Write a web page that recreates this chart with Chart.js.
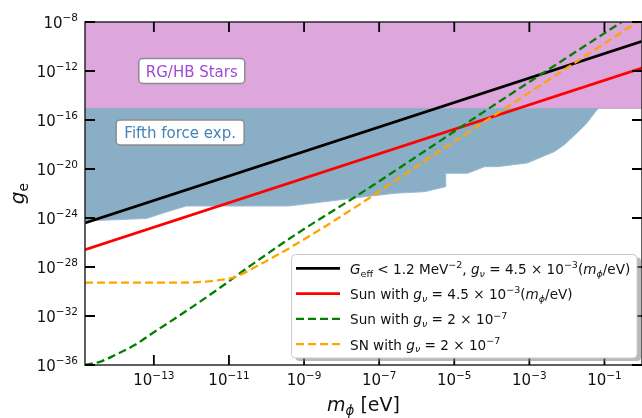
<!DOCTYPE html>
<html>
<head>
<meta charset="utf-8">
<script src="https://cdn.jsdelivr.net/npm/chart.js@4.4.0/dist/chart.umd.min.js"></script>
<style>
  html, body { margin: 0; padding: 0; background: #fff; }
</style>
</head>
<body>
<canvas id="c" width="642" height="418"></canvas>
<script>
// all values below are log10 of the quantity (m_phi in eV, g_e dimensionless)

// axis ranges and ticks
const X_MIN_EXP = -14.834, X_MAX_EXP = 0;
const Y_MIN_EXP = -36, Y_MAX_EXP = -8;
const xTickExps = [-13, -11, -9, -7, -5, -3, -1];
const yTickExps = [-36, -32, -28, -24, -20, -16, -12, -8];

// RG/HB stars excluded above this coupling
const rgBoundExp = -15.05;

// fifth force exclusion, lower edge
const fifthMass = [-14.834, -13.193, -12.664, -12.134, -9.408, -8.799, -7.370, -6.576, -5.782, -5.226, -5.226, -4.644, -4.193, -3.850, -3.056, -2.341, -2.076, -1.732, -1.467, -1.203, -1.150];
const fifthG    = [-24.24, -24.04, -23.51, -23.02, -23.02, -22.80, -22.26, -21.98, -21.85, -21.44, -20.35, -20.35, -19.81, -19.81, -19.51, -18.59, -18.04, -17.06, -16.24, -15.18, -15.05];

// G_eff < 1.2 MeV^-2
const geffMass = [-14.834, 0];
const geffG    = [-24.41, -9.58];

// Sun, g_nu = 4.5e-3 (m/eV)
const sunLinMass = [-14.834, 0];
const sunLinG    = [-26.59, -11.76];

// Sun, g_nu = 2e-7
const sunConstMass = [-14.834, -14.4, -14.04, -13.5, -13.06, -12.19, -11.31, -10.41, -9.20, -7.55, -5.62, -3.85, -0.54];
const sunConstG    = [-36.0, -35.7, -35.2, -34.35, -33.45, -31.7, -29.85, -27.85, -25.3, -22.1, -18.2, -14.6, -8.0];

// SN, g_nu = 2e-7
const snMass = [-14.834, -12.6, -11.92, -11.31, -10.86, -10.15, -9.14, -7.55, -5.62, -3.85, -0.09];
const snG    = [-29.28, -29.28, -29.25, -29.09, -28.84, -27.75, -26.0, -22.95, -19.0, -15.45, -7.94];

const pow = e => Math.pow(10, e);
const pts = (xs, ys) => xs.map((x, i) => ({ x: pow(x), y: pow(ys[i]) }));

const FONT = '"DejaVu Sans", sans-serif';
const DASH = [8, 4];

// legend rows, written as pieces of rich text
const legendRows = [
  { color: '#000000', dash: [], width: 2.8, parts: [
    { t: 'G', it: 1 }, { t: 'eff', sub: 1 }, { t: ' < 1.2 MeV' }, { t: '−2', sup: 1 }, { t: ', ' },
    { t: 'g', it: 1 }, { t: 'ν', it: 1, sub: 1 }, { t: ' = 4.5 × 10' }, { t: '−3', sup: 1 },
    { t: '(' }, { t: 'm', it: 1 }, { t: 'ϕ', it: 1, sub: 1 }, { t: '/eV)' } ] },
  { color: '#ff0000', dash: [], width: 2.8, parts: [
    { t: 'Sun with ' }, { t: 'g', it: 1 }, { t: 'ν', it: 1, sub: 1 }, { t: ' = 4.5 × 10' }, { t: '−3', sup: 1 },
    { t: '(' }, { t: 'm', it: 1 }, { t: 'ϕ', it: 1, sub: 1 }, { t: '/eV)' } ] },
  { color: '#008000', dash: DASH, width: 2.3, parts: [
    { t: 'Sun with ' }, { t: 'g', it: 1 }, { t: 'ν', it: 1, sub: 1 }, { t: ' = 2 × 10' }, { t: '−7', sup: 1 } ] },
  { color: '#ffa500', dash: DASH, width: 2.3, parts: [
    { t: 'SN with ' }, { t: 'g', it: 1 }, { t: 'ν', it: 1, sub: 1 }, { t: ' = 2 × 10' }, { t: '−7', sup: 1 } ] }
];

function fontFor(p, size) {
  const s = (p.sup || p.sub) ? size * 0.7 : size;
  return (p.it ? 'italic ' : '') + s + 'px ' + FONT;
}

function drawRich(ctx, parts, x, y, size, align, color) {
  let w = 0;
  parts.forEach(p => { ctx.font = fontFor(p, size); w += ctx.measureText(p.t).width; });
  let cx = align === 'right' ? x - w : align === 'center' ? x - w / 2 : x;
  ctx.fillStyle = color;
  ctx.textAlign = 'left';
  ctx.textBaseline = 'alphabetic';
  parts.forEach(p => {
    ctx.font = fontFor(p, size);
    const dy = p.sup ? -0.43 * size : p.sub ? 0.2 * size : 0;
    ctx.fillText(p.t, cx, y + dy);
    cx += ctx.measureText(p.t).width;
  });
}

function roundRect(ctx, x, y, w, h, r) {
  ctx.beginPath();
  ctx.moveTo(x + r, y);
  ctx.arcTo(x + w, y, x + w, y + h, r);
  ctx.arcTo(x + w, y + h, x, y + h, r);
  ctx.arcTo(x, y + h, x, y, r);
  ctx.arcTo(x, y, x + w, y, r);
  ctx.closePath();
}

const expLabel = e => [{ t: '10' }, { t: (e < 0 ? '−' : '') + Math.abs(e), sup: 1 }];

// spines, inward ticks, tick labels, titles, region labels and legend
const decor = {
  id: 'decor',
  afterDatasetsDraw(chart) {
    const { ctx, chartArea: a, scales: { x, y } } = chart;
    ctx.save();

    // region labels
    const boxLabel = (text, cx, cy, w, h, color) => {
      roundRect(ctx, cx - w / 2, cy - h / 2, w, h, 4);
      ctx.fillStyle = '#ffffff';
      ctx.fill();
      ctx.strokeStyle = '#8c8c8c';
      ctx.lineWidth = 1.5;
      ctx.stroke();
      drawRich(ctx, [{ t: text }], cx, cy + 5.5, 15, 'center', color);
    };
    boxLabel('RG/HB Stars', x.getPixelForValue(pow(-11.99)), y.getPixelForValue(pow(-12.0)), 106, 25, '#a04ad4');
    boxLabel('Fifth force exp.', x.getPixelForValue(pow(-12.30)), y.getPixelForValue(pow(-17.02)), 128, 25, '#4682b4');

    // spines
    ctx.strokeStyle = '#2a2a2a';
    ctx.lineWidth = 1.5;
    ctx.strokeRect(a.left, a.top, a.right - a.left, a.bottom - a.top);

    // ticks (pointing inward, on all four sides)
    ctx.strokeStyle = '#000';
    ctx.lineWidth = 1.8;
    ctx.beginPath();
    xTickExps.forEach(e => {
      const px = x.getPixelForValue(pow(e));
      ctx.moveTo(px, a.bottom); ctx.lineTo(px, a.bottom - 10);
      ctx.moveTo(px, a.top); ctx.lineTo(px, a.top + 10);
    });
    yTickExps.forEach(e => {
      const py = y.getPixelForValue(pow(e));
      ctx.moveTo(a.left, py); ctx.lineTo(a.left + 10, py);
      ctx.moveTo(a.right, py); ctx.lineTo(a.right - 10, py);
    });
    ctx.stroke();

    // tick labels
    xTickExps.forEach(e => {
      drawRich(ctx, expLabel(e), x.getPixelForValue(pow(e)), a.bottom + 20, 15, 'center', '#111');
    });
    yTickExps.forEach(e => {
      drawRich(ctx, expLabel(e), a.left - 7, y.getPixelForValue(pow(e)) + 5.5, 15, 'right', '#111');
    });

    // axis titles
    drawRich(ctx, [{ t: 'm', it: 1 }, { t: 'ϕ', it: 1, sub: 1 }, { t: ' [eV]' }], (a.left + 642) / 2, 411, 19, 'center', '#111');
    ctx.save();
    ctx.translate(24, (a.top + a.bottom) / 2);
    ctx.rotate(-Math.PI / 2);
    drawRich(ctx, [{ t: 'g', it: 1 }, { t: 'e', sub: 1 }], 0, 0, 20, 'center', '#111');
    ctx.restore();

    // legend
    const lx = 291.5, ly = 254.5, lw = 345.5, lh = 103.5;
    roundRect(ctx, lx + 4, ly + 3, lw, lh, 4);
    ctx.fillStyle = 'rgba(128,128,128,0.55)';
    ctx.fill();
    roundRect(ctx, lx, ly, lw, lh, 4);
    ctx.fillStyle = '#ffffff';
    ctx.fill();
    ctx.strokeStyle = '#cccccc';
    ctx.lineWidth = 1;
    ctx.stroke();
    legendRows.forEach((r, i) => {
      const ry = 268.3 + i * 25.3;
      ctx.strokeStyle = r.color;
      ctx.lineWidth = r.width;
      ctx.setLineDash(r.dash);
      ctx.beginPath();
      ctx.moveTo(296, ry);
      ctx.lineTo(340, ry);
      ctx.stroke();
      ctx.setLineDash([]);
      drawRich(ctx, r.parts, 350, ry + 5.5, 13.6, 'left', '#111');
    });

    ctx.restore();
  }
};

new Chart(document.getElementById('c'), {
  type: 'line',
  data: {
    datasets: [
      {
        label: 'RG/HB Stars',
        data: pts([X_MIN_EXP, X_MAX_EXP], [rgBoundExp, rgBoundExp]),
        fill: 'end',
        backgroundColor: '#dda6dd',
        borderColor: '#c7a0cc',
        borderWidth: 1,
        order: 10
      },
      {
        label: 'Fifth force exp.',
        data: pts(fifthMass, fifthG),
        fill: { value: pow(rgBoundExp) },
        backgroundColor: '#8aaec5',
        borderColor: '#9dbcd0',
        borderWidth: 1,
        order: 9
      },
      {
        label: 'G_eff < 1.2 MeV^-2',
        data: pts(geffMass, geffG),
        borderColor: '#000000',
        borderWidth: 2.8,
        clip: 0,
        order: 4
      },
      {
        label: 'Sun with g_nu = 4.5e-3 (m/eV)',
        data: pts(sunLinMass, sunLinG),
        borderColor: '#ff0000',
        borderWidth: 2.8,
        clip: 0,
        order: 3
      },
      {
        label: 'Sun with g_nu = 2e-7',
        data: pts(sunConstMass, sunConstG),
        borderColor: '#008000',
        borderWidth: 2.3,
        borderDash: DASH,
        cubicInterpolationMode: 'monotone',
        clip: 0,
        order: 2
      },
      {
        label: 'SN with g_nu = 2e-7',
        data: pts(snMass, snG),
        borderColor: '#ffa500',
        borderWidth: 2.3,
        borderDash: DASH,
        cubicInterpolationMode: 'monotone',
        clip: 0,
        order: 1
      }
    ]
  },
  options: {
    responsive: false,
    animation: false,
    layout: { padding: { left: 85, top: 22, right: -3.5, bottom: 53 } },
    elements: { point: { radius: 0 }, line: { tension: 0 } },
    scales: {
      x: { type: 'logarithmic', min: pow(X_MIN_EXP), max: pow(X_MAX_EXP), bounds: 'data', display: false },
      y: { type: 'logarithmic', min: pow(Y_MIN_EXP), max: pow(Y_MAX_EXP), bounds: 'data', display: false }
    },
    plugins: {
      legend: { display: false },
      tooltip: { enabled: false }
    }
  },
  plugins: [decor]
});
</script>
</body>
</html>
